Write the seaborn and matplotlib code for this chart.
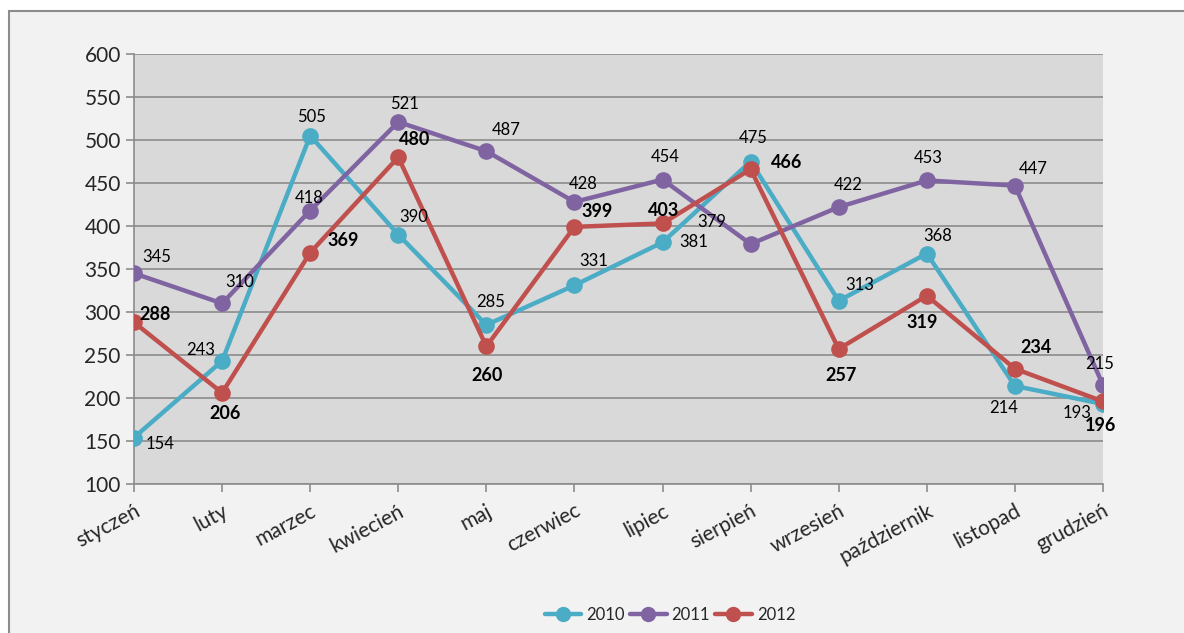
import seaborn as sns
import pandas as pd
import numpy as np
from matplotlib import pyplot as plt
from matplotlib.patches import Rectangle

sns.set_theme(style="white")
plt.rcParams["font.family"] = ["Lato", "DejaVu Sans"]

MONTHS = ["styczeń", "luty", "marzec", "kwiecień", "maj", "czerwiec",
          "lipiec", "sierpień", "wrzesień", "październik", "listopad", "grudzień"]
YEARS = ["2010", "2011", "2012"]
VALUES_2010 = [154, 243, 505, 390, 285, 331, 381, 475, 313, 368, 214, 193]
VALUES_2011 = [345, 310, 418, 521, 487, 428, 454, 379, 422, 453, 447, 215]
VALUES_2012 = [288, 206, 369, 480, 260, 399, 403, 466, 257, 319, 234, 196]

COLORS = {"2010": "#4bacc6", "2011": "#8064a2", "2012": "#c0504d"}

# label offsets in pixels (dx, dy) relative to each point, as placed in the original
OFFSETS = {
    "2010": [(26, -6), (-21, 11), (1, 19), (15, 18), (4, 23), (19, 24),
             (31, 0), (3, 24), (21, 16), (11, 18), (-11, -22), (-26, -9)],
    "2011": [(23, 16), (18, 21), (-1, 13), (6, 18), (20, 21), (9, 18),
             (3, 23), (-39, 22), (9, 22), (1, 22), (18, 17), (-3, 21)],
    "2012": [(21, 8), (3, -21), (33, 12), (16, 18), (1, -29), (23, 15),
             (1, 13), (36, 7), (2, -27), (-5, -27), (21, 21), (-3, -24)],
}

df = pd.DataFrame({"month": MONTHS, "2010": VALUES_2010,
                   "2011": VALUES_2011, "2012": VALUES_2012})
df["pos"] = np.arange(len(MONTHS))
long_df = df.melt(id_vars=["month", "pos"], value_vars=YEARS,
                  var_name="year", value_name="value")

fig = plt.figure(figsize=(11.84, 6.33), dpi=100, facecolor="white")
fig.patches.append(Rectangle((9 / 1184, -0.1), 1.2, 1 - 11 / 633 + 0.1,
                             transform=fig.transFigure, facecolor="#f2f2f2",
                             edgecolor="#8c8c8c", linewidth=1.5, zorder=-10))
ax = fig.add_axes([134 / 1184, 1 - 484 / 633, (1103 - 134) / 1184, (484 - 54) / 633])
ax.set_facecolor("#d9d9d9")

sns.lineplot(data=long_df, x="pos", y="value", hue="year", palette=COLORS,
             marker="o", markersize=12, markeredgewidth=0, linewidth=3.2,
             ax=ax, legend=False, zorder=3)

for year in YEARS:
    bold = year == "2012"
    for i, v in enumerate(df[year]):
        dx, dy = OFFSETS[year][i]
        ax.annotate(str(v), (i, v), xytext=(dx, dy), textcoords="offset pixels",
                    ha="center", va="center",
                    fontsize=13 if bold else 12,
                    fontweight="bold" if bold else "normal",
                    color="black", zorder=5)

ax.set_xlim(0, len(MONTHS) - 1)
ax.set_ylim(100, 600)
ax.set_yticks(range(100, 601, 50))
ax.set_xticks(df["pos"])
ax.set_xticklabels(MONTHS, rotation=28, ha="right", rotation_mode="anchor")
ax.yaxis.grid(True, color="#8c8c8c", linewidth=1.2)
ax.xaxis.grid(False)
ax.set_axisbelow(True)
ax.tick_params(axis="both", which="both", length=6, width=1.2, color="#8c8c8c",
               labelsize=15, direction="out", bottom=True, left=True)
ax.tick_params(axis="x", pad=6)
for side in ["top", "right"]:
    ax.spines[side].set_visible(False)
for side in ["left", "bottom"]:
    ax.spines[side].set_color("#8c8c8c")
    ax.spines[side].set_linewidth(1.2)
ax.set_xlabel("")
ax.set_ylabel("")

handles = [plt.Line2D([], [], color=COLORS[y], marker="o", markersize=10,
                      linewidth=3.2, label=y) for y in YEARS]
fig.legend(handles=handles, loc="center", bbox_to_anchor=(670 / 1184, 1 - 615 / 633),
           ncol=3, frameon=False, fontsize=12, handlelength=2.2,
           handletextpad=0.3, columnspacing=0.3)

fig.savefig("out.png", dpi=100)
